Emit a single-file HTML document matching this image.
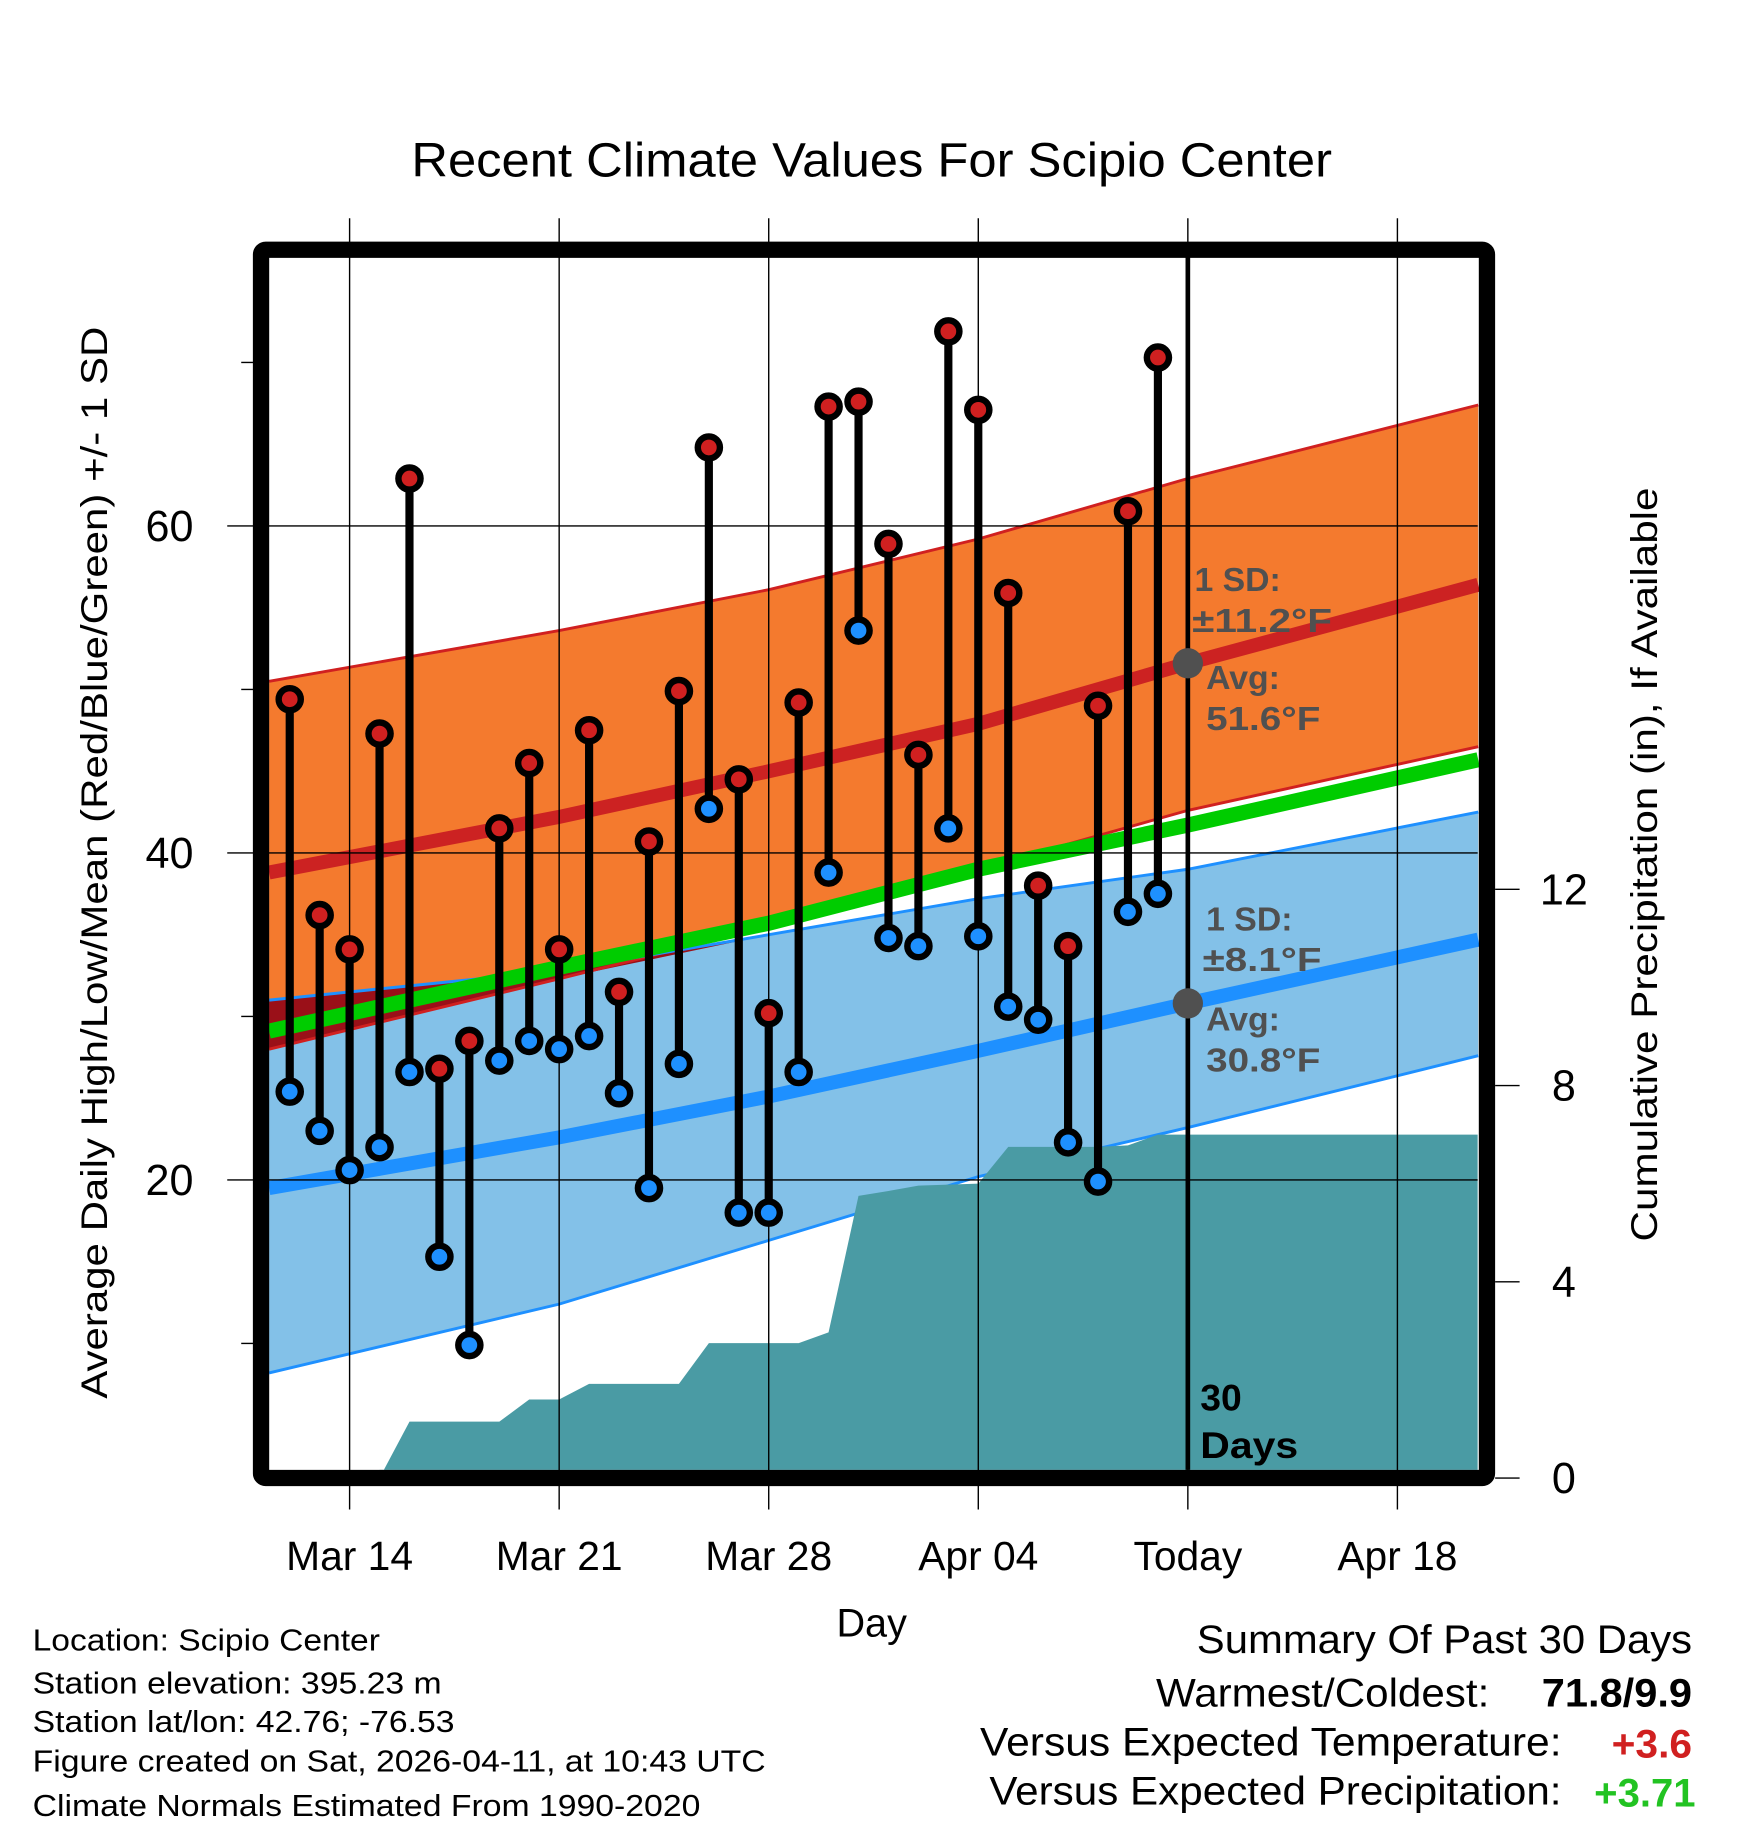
<!DOCTYPE html>
<html><head><meta charset="utf-8"><style>
html,body{margin:0;padding:0;background:#fff;}
svg{display:block;font-family:"Liberation Sans",Arial,sans-serif;}
</style></head><body>
<svg id="chart" width="1748" height="1828" viewBox="0 0 1500 1568" xmlns="http://www.w3.org/2000/svg">
<g id="bands"></g>
<g id="precip"></g>
<g id="grid"></g>
<g id="marks"></g>
<g id="annot">
 <g fill="#505050" font-weight="bold" font-size="29">
  <text x="1025" y="507">1 SD:</text>
  <text x="1023" y="542" textLength="120" lengthAdjust="spacingAndGlyphs">±11.2°F</text>
  <text x="1035" y="591">Avg:</text>
  <text x="1035" y="626" textLength="98" lengthAdjust="spacingAndGlyphs">51.6°F</text>
  <text x="1035" y="798">1 SD:</text>
  <text x="1032" y="833" textLength="102" lengthAdjust="spacingAndGlyphs">±8.1°F</text>
  <text x="1035" y="884">Avg:</text>
  <text x="1035" y="919" textLength="98" lengthAdjust="spacingAndGlyphs">30.8°F</text>
 </g>
 <g font-weight="bold" font-size="32" fill="#000">
  <text x="1030" y="1210">30</text>
  <text x="1030" y="1251" textLength="84" lengthAdjust="spacingAndGlyphs">Days</text>
 </g>
</g>
<rect x="224" y="214" width="1052" height="1054" rx="4" fill="none" stroke="#000" stroke-width="14"/>
<g id="axes"></g>
<text x="353" y="151" font-size="41" textLength="790" lengthAdjust="spacingAndGlyphs">Recent Climate Values For Scipio Center</text>
<text transform="translate(92,1200) rotate(-90)" font-size="32" textLength="920" lengthAdjust="spacingAndGlyphs">Average Daily High/Low/Mean (Red/Blue/Green) +/- 1 SD</text>
<text transform="translate(1422,1065) rotate(-90)" font-size="32" textLength="647" lengthAdjust="spacingAndGlyphs">Cumulative Precipitation (in), If Available</text>
<text x="748" y="1404" font-size="34" text-anchor="middle">Day</text>
<g font-size="26">
 <text x="28" y="1416" textLength="298" lengthAdjust="spacingAndGlyphs">Location: Scipio Center</text>
 <text x="28" y="1453" textLength="351" lengthAdjust="spacingAndGlyphs">Station elevation: 395.23 m</text>
 <text x="28" y="1486" textLength="362" lengthAdjust="spacingAndGlyphs">Station lat/lon: 42.76; -76.53</text>
 <text x="28" y="1520" textLength="629" lengthAdjust="spacingAndGlyphs">Figure created on Sat, 2026-04-11, at 10:43 UTC</text>
 <text x="28" y="1558" textLength="573" lengthAdjust="spacingAndGlyphs">Climate Normals Estimated From 1990-2020</text>
</g>
<g font-size="34">
 <text x="1027" y="1418" textLength="425" lengthAdjust="spacingAndGlyphs">Summary Of Past 30 Days</text>
 <text x="992" y="1464" textLength="286" lengthAdjust="spacingAndGlyphs">Warmest/Coldest:</text>
 <text x="1323" y="1464" font-weight="bold" textLength="129" lengthAdjust="spacingAndGlyphs">71.8/9.9</text>
 <text x="841" y="1506" textLength="499" lengthAdjust="spacingAndGlyphs">Versus Expected Temperature:</text>
 <text x="1383" y="1508" font-weight="bold" fill="#d02020" textLength="69" lengthAdjust="spacingAndGlyphs">+3.6</text>
 <text x="849" y="1548" textLength="491" lengthAdjust="spacingAndGlyphs">Versus Expected Precipitation:</text>
 <text x="1368" y="1550" font-weight="bold" fill="#22c322" textLength="87" lengthAdjust="spacingAndGlyphs">+3.71</text>
</g>
</svg>
<script>
const NS="http://www.w3.org/2000/svg";
// daily data (day 0 = Mar 12)
const highs=[49.4,36.2,34.1,47.3,62.9,26.8,28.5,41.5,45.5,34.1,47.5,31.5,40.7,49.9,64.8,44.5,30.2,49.2,67.3,67.6,58.9,46.0,71.9,67.1,55.9,38.0,34.3,49.0,60.9,70.3];
const lows=[25.4,23.0,20.6,22.0,26.6,15.3,9.9,27.3,28.5,28.0,28.8,25.3,19.5,27.1,42.7,18.0,18.0,26.6,38.8,53.6,34.8,34.3,41.5,34.9,30.6,29.8,22.3,19.9,36.4,37.5];
const precip=[0,0,0,0,1.15,1.15,1.15,1.15,1.6,1.6,1.92,1.92,1.92,1.92,2.75,2.75,2.75,2.75,2.97,5.75,5.85,5.96,5.98,6.0,6.75,6.75,6.75,6.75,6.78,7.0];
// normals sampled at these day positions
const normDays=[-0.69,9,16,23,30,39.7];
const hiPlus=[50.5,53.6,56.1,59.2,62.9,67.4];
const hiNorm=[38.8,42.2,45.0,47.9,51.6,56.4];
const hiMinus=[28.0,32.3,35.5,39.0,42.6,46.5];
const meanNorm=[29.1,33.0,35.7,39.0,41.7,45.7];
const loPlus=[31.0,32.8,35.0,37.2,39.0,42.5];
const loNorm=[19.5,22.6,25.1,27.9,30.8,34.7];
const loMinus=[8.2,12.4,16.3,20.2,23.2,27.6];
const tempTicks=[20,40,60];
const tempMinor=[10,30,50,70];
const precipTicks=[0,4,8,12];
const xTickDays=[2,9,16,23,30,37];
const xTickLabels=["Mar 14","Mar 21","Mar 28","Apr 04","Today","Apr 18"];
const todayDay=30;

const X0=231,X1=1268,YT=220,YB=1261;
const xs=d=>300+(d-2)*25.69;
const yt=t=>451+(60-t)*14.03;
const yp=p=>1268-p*42.1;
function el(tag,attrs,parent){const e=document.createElementNS(NS,tag);for(const k in attrs)e.setAttribute(k,attrs[k]);parent.appendChild(e);return e;}
const bands=document.getElementById('bands'),pr=document.getElementById('precip'),grid=document.getElementById('grid'),marks=document.getElementById('marks'),axes=document.getElementById('axes');
function pts(arr){return normDays.map((d,i)=>xs(d).toFixed(1)+","+yt(arr[i]).toFixed(1));}
function band(top,bot,fill,parent,name){
  const p=el('polygon',{points:pts(top).concat(pts(bot).reverse()).join(' '),fill:fill},parent);
  
  
}
function line(arr,color,w,parent,name){
  const p=el('polyline',{points:pts(arr).join(' '),fill:'none',stroke:color,'stroke-width':w},parent);
  
  
}
band(hiPlus,hiMinus,'#f47a2e',bands,'high-sd-band');
band(loPlus,loMinus,'#83c1e8',bands,'low-sd-band');
// overlap between blue top and orange bottom (only where they overlap)
band(loPlus,hiMinus.map((v,i)=>Math.min(v,loPlus[i])),'#9a1018',bands,'overlap-band');
line(hiPlus,'#d02020',2.5,bands,'high-plus-sd-line');
line(hiMinus,'#d02020',2.5,bands,'high-minus-sd-line');
line(loPlus,'#1e90ff',2.5,bands,'low-plus-sd-line');
line(loMinus,'#1e90ff',2.5,bands,'low-minus-sd-line');
line(meanNorm,'#00cc00',13,bands,'mean-normal-line');
line(hiNorm,'#cc2222',12,bands,'high-normal-line');
line(loNorm,'#1e90ff',12,bands,'low-normal-line');

// precip area
{
  let p=[];let start=3;
  for(let d=start;d<precip.length;d++)p.push(xs(d).toFixed(1)+","+yp(precip[d]).toFixed(1));
  p.push(X1+","+yp(precip[precip.length-1]).toFixed(1));
  p.push(X1+","+YB);p.push(xs(start).toFixed(1)+","+YB);
  const a=el('polygon',{points:p.join(' '),fill:'#4a9ba4'},pr);
  
  
}
// grid
xTickDays.forEach((d,i)=>{
  const l=el('line',{x1:xs(d),x2:xs(d),y1:187,y2:1295,stroke:'#000','stroke-width':1.2},grid);
  
  
  const t=el('text',{x:xs(d),y:1347,'font-size':35,'text-anchor':'middle'},axes);
  t.textContent=xTickLabels[i];
  
  
});
tempTicks.forEach(v=>{
  const l=el('line',{x1:195,x2:X1,y1:yt(v),y2:yt(v),stroke:'#000','stroke-width':1.2},grid);
  
  
  const t=el('text',{x:166,y:yt(v)+13,'font-size':37,'text-anchor':'end'},axes);
  t.textContent=v;
  
  
});
tempMinor.forEach(v=>{
  const l=el('line',{x1:207,x2:218,y1:yt(v),y2:yt(v),stroke:'#000','stroke-width':1.2},axes);
  
  
});
precipTicks.forEach(v=>{
  const l=el('line',{x1:1283,x2:1304,y1:yp(v),y2:yp(v),stroke:'#000','stroke-width':1.2},axes);
  
  
  const t=el('text',{x:1342,y:yp(v)+13,'font-size':37,'text-anchor':'middle'},axes);
  t.textContent=v;
  
  
});
// today line
{
  const l=el('line',{x1:xs(todayDay),x2:xs(todayDay),y1:YT,y2:YB,stroke:'#000','stroke-width':4},marks);
  
  
}
// stems & dots
highs.forEach((h,d)=>{
  const x=xs(d);
  const s=el('line',{x1:x,x2:x,y1:yt(h),y2:yt(lows[d]),stroke:'#000','stroke-width':7},marks);
  
  
});
highs.forEach((h,d)=>{
  const x=xs(d);
  const c1=el('circle',{cx:x,cy:yt(h),r:9.5,fill:'#d02020',stroke:'#000','stroke-width':5.5},marks);
  
  
  const c2=el('circle',{cx:x,cy:yt(lows[d]),r:9.5,fill:'#1e90ff',stroke:'#000','stroke-width':5.5},marks);
  
  
});
// avg markers at today
[[51.6,'today-high-avg-marker'],[30.8,'today-low-avg-marker']].forEach(([v,n])=>{
  const c=el('circle',{cx:xs(todayDay),cy:yt(v),r:13,fill:'#505050'},document.getElementById('annot'));
  
  
});
</script>
</body></html>
